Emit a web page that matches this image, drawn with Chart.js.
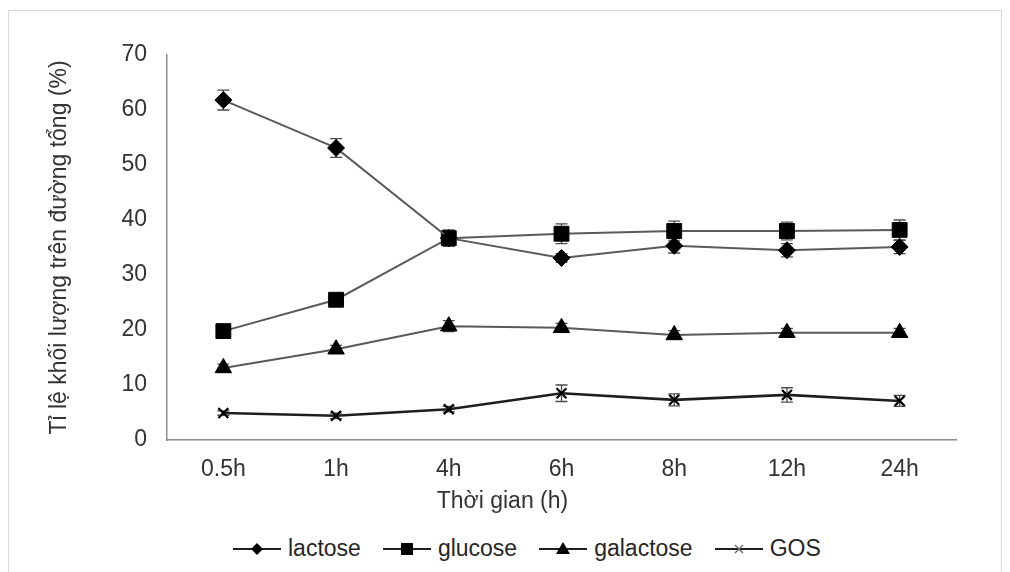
<!DOCTYPE html>
<html>
<head>
<meta charset="utf-8">
<script src="https://cdn.jsdelivr.net/npm/chart.js@4.4.1/dist/chart.umd.min.js"></script>
<style>
  body { margin: 0; background: #fff; font-family: "Liberation Sans", Arial, sans-serif; }
  #wrap { position: relative; width: 1010px; height: 572px; overflow: hidden; }
  #frame { position: absolute; left: 8px; top: 10px; width: 992px; height: 600px; border: 1px solid #d9d9d9; }
  #chartBox { position: absolute; left: 0; top: 0; width: 1010px; height: 520px; }
  #xTitle { position: absolute; left: 0; top: 487px; width: 1005px; text-align: center; font-size: 23px; color: #333; }
  #legend { position: absolute; left: 232px; top: 535px; display: flex; font-size: 23px; color: #262626; }
  #legend .item { display: flex; align-items: center; margin-right: 21px; }
  #legend svg { margin-right: 6px; }
</style>
</head>
<body>
<div id="wrap">
  <div id="frame"></div>
  <div id="chartBox"><canvas id="chart" width="1010" height="520"></canvas></div>
  <div id="xTitle">Thời gian (h)</div>
  <div id="legend"></div>
</div>
<script>
const times = ['0.5h', '1h', '4h', '6h', '8h', '12h', '24h']; // x categories

// values (% of total sugar)
const lactose = [61.8, 53.1, 36.7, 33.1, 35.3, 34.5, 35.1];
const glucose = [19.8, 25.5, 36.7, 37.5, 38.0, 38.0, 38.2];
const galactose = [13.1, 16.5, 20.7, 20.4, 19.1, 19.5, 19.5];
const gos = [4.9, 4.4, 5.6, 8.5, 7.3, 8.2, 7.1];

// error bars (+/-)
const lactoseErr = [1.8, 1.7, 1.2, 0.8, 1.3, 1.2, 1.2];
const glucoseErr = [0.6, 0.7, 1.5, 1.8, 1.8, 1.6, 1.8];
const galactoseErr = [0.7, 0.7, 1.0, 0.8, 0.8, 0.8, 0.8];
const gosErr = [0.4, 0.5, 0.5, 1.5, 1.1, 1.3, 1.0];

const seriesNames = ['lactose', 'glucose', 'galactose', 'GOS'];

// draws the error bars under the markers
const errorBars = {
    id: 'errorBars',
    beforeDatasetsDraw(chart) {
        const ctx = chart.ctx;
        const yScale = chart.scales.y;
        ctx.save();
        ctx.strokeStyle = '#4d4d4d';
        ctx.lineWidth = 1.3;
        chart.data.datasets.forEach((ds, i) => {
            const meta = chart.getDatasetMeta(i);
            meta.data.forEach((pt, j) => {
                const e = ds.errors[j];
                const top = yScale.getPixelForValue(ds.data[j] + e);
                const bot = yScale.getPixelForValue(ds.data[j] - e);
                ctx.beginPath();
                ctx.moveTo(pt.x, top); ctx.lineTo(pt.x, bot);
                ctx.moveTo(pt.x - 6, top); ctx.lineTo(pt.x + 6, top);
                ctx.moveTo(pt.x - 6, bot); ctx.lineTo(pt.x + 6, bot);
                ctx.stroke();
            });
        });
        ctx.restore();
    }
};

const ctx = document.getElementById('chart').getContext('2d');
new Chart(ctx, {
    type: 'line',
    data: {
        labels: times,
        datasets: [
            { label: 'lactose', data: lactose, errors: lactoseErr, borderColor: '#5a5a5a', borderWidth: 2,
              pointStyle: 'rectRot', pointRadius: 8.5, pointBackgroundColor: '#000', pointBorderColor: '#000', pointBorderWidth: 1 },
            { label: 'glucose', data: glucose, errors: glucoseErr, borderColor: '#5a5a5a', borderWidth: 2,
              pointStyle: 'rect', pointRadius: 10.5, pointBackgroundColor: '#000', pointBorderColor: '#000', pointBorderWidth: 1 },
            { label: 'galactose', data: galactose, errors: galactoseErr, borderColor: '#5a5a5a', borderWidth: 2,
              pointStyle: 'triangle', pointRadius: 9.5, pointBackgroundColor: '#000', pointBorderColor: '#000', pointBorderWidth: 1 },
            { label: 'GOS', data: gos, errors: gosErr, borderColor: '#1e1e1e', borderWidth: 2.6,
              pointStyle: 'crossRot', pointRadius: 7, pointBorderColor: '#000', pointBorderWidth: 2.2 }
        ]
    },
    options: {
        responsive: false,
        animation: false,
        layout: { padding: { left: 0, right: 54, top: 55, bottom: 0 } },
        plugins: {
            legend: { display: false },
            tooltip: { enabled: false }
        },
        scales: {
            x: {
                offset: true,
                grid: { display: false, drawTicks: false, offset: true },
                border: { display: true, color: '#8c8c8c', width: 1.5 },
                ticks: { color: '#333', padding: 16, font: { family: 'Liberation Sans', size: 23 } },
                afterFit(scale) { scale.height = 80; }
            },
            y: {
                min: 0, max: 70,
                grid: { display: false, drawTicks: false },
                border: { display: true, color: '#8c8c8c', width: 1.5 },
                ticks: { stepSize: 10, color: '#333', padding: 20, font: { family: 'Liberation Sans', size: 23 } },
                title: { display: true, text: 'Tỉ lệ khối lượng trên đường tổng (%)', color: '#333',
                         padding: { top: 46, bottom: 0 }, font: { family: 'Liberation Sans', size: 23 } },
                afterFit(scale) { scale.width = 167; }
            }
        }
    },
    plugins: [errorBars]
});

// legend with line + marker icons
const icons = {
    lactose: '<polygon points="25,4 31,10 25,16 19,10" fill="#000"/>',
    glucose: '<rect x="19" y="4" width="12" height="12" fill="#000"/>',
    galactose: '<polygon points="25,3 32,15 18,15" fill="#000"/>',
    GOS: '<path d="M21,6 L29,14 M29,6 L21,14" stroke="#666" stroke-width="1.3"/>'
};
const legendEl = document.getElementById('legend');
seriesNames.forEach(name => {
    const item = document.createElement('div');
    item.className = 'item';
    item.innerHTML = '<svg width="50" height="20"><line x1="1" y1="10" x2="49" y2="10" stroke="#1e1e1e" stroke-width="2"/>' +
        icons[name] + '</svg><span>' + name + '</span>';
    legendEl.appendChild(item);
});
</script>
</body>
</html>
